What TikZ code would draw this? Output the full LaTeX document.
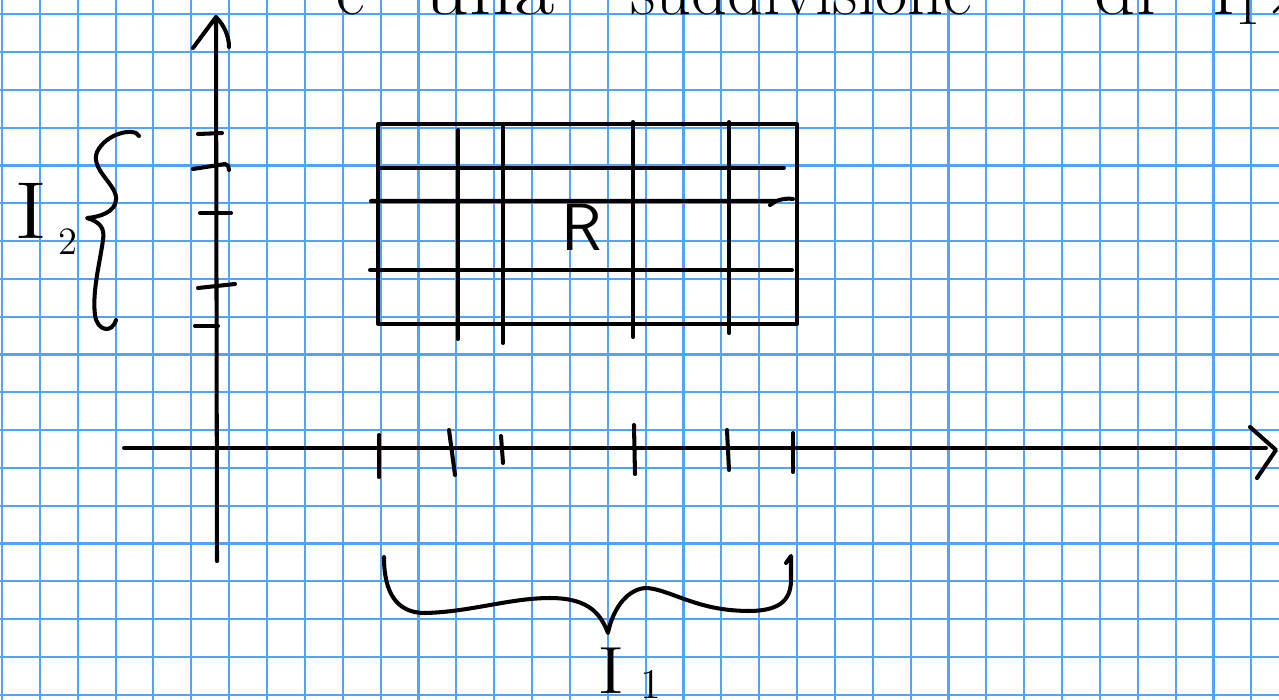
\documentclass[tikz,border=0pt]{standalone}
\definecolor{gridblue}{RGB}{80,163,255}
\tikzset{
  gridline/.style={draw=gridblue, line width=0.6pt},
  ink/.style={draw=black, line width=1.15pt, line cap=round, line join=round},
  handtext/.style={inner sep=0pt, text=black},
}
\begin{document}
\begin{tikzpicture}[x=0.1mm,y=-0.1mm]
\useasboundingbox (0,0) rectangle (1279,700);
\begin{scope}
\clip (0,0) rectangle (1279,700);
\fill[white] (0,0) rectangle (1279,700);
% squared paper
\foreach \i in {0,...,33} \draw[gridline] ({2+37.86*\i},0) -- ({2+37.86*\i},700);
\foreach \j in {0,...,18} \draw[gridline] (0,{14.3+37.8*\j}) -- (1279,{14.3+37.8*\j});

% top line of handwriting (cut off by the page edge, as in the original)
\begin{scope}[every node/.style={handtext, anchor=base west, font=\fontsize{20}{20}\selectfont}]
\node (t1) at (336,14) {è};
\node (t2) at (424,14) {\scalebox{1.25}[1]{una}};
\node (t3) at (630,14) {suddivisione};
\node (t4) at (1094,14) {\scalebox{1.15}[1]{di}};
\node (t5) at (1212,14) {I$_1\times$};
\end{scope}

% axes
\coordinate (ybot) at (217,561);
\coordinate (ytop) at (216,17);
\coordinate (xleft) at (124,448);
\coordinate (xright) at (1276,450);
\draw[ink] (ybot) -- (ytop);
\draw[ink] (193,48) -- (ytop) .. controls (224,25) and (229,36) .. (229,47);
\draw[ink] (xleft) -- (1266,448);
\draw[ink] (1250,427) -- (xright) -- (1257,478);

% ticks on the x axis
\draw[ink] (379,435) -- (379,477);
\draw[ink] (449,430) -- (455,475);
\draw[ink] (501,436) -- (503,463);
\draw[ink] (634,425) -- (635,474);
\draw[ink] (727,430) -- (729,470);
\draw[ink] (793,433) -- (793,472);

% ticks on the y axis
\draw[ink] (198,134) -- (222,133);
\draw[ink] (193,169) -- (225,164) .. controls (228,164) and (229,167) .. (229,170);
\draw[ink] (200,213) -- (231,213);
\draw[ink] (198,288) -- (235,284);
\draw[ink] (195,326) -- (218,326);

% the rectangle R and its subdivision
\coordinate (rectNW) at (378,124);
\coordinate (rectSE) at (797,324);
\draw[ink] (rectNW) rectangle (rectSE);
\draw[ink] (458,130) -- (458,339);
\draw[ink] (503,125) -- (503,343);
\draw[ink] (633,122) -- (633,337);
\draw[ink] (729,122) -- (729,333);
\draw[ink] (378,168) -- (784,168);
\draw[ink] (371,201) -- (776,201) .. controls (782,199) and (788,198) .. (793,199);
\draw[ink] (770,205) -- (776,201);
\draw[ink] (370,270) -- (792,270);
\node[handtext, font=\sffamily\fontsize{19}{19}\selectfont] (R) at (582,227) {R};

% brace for I_2
\draw[ink] (139,136) .. controls (135,127) and (106,133) .. (97,152)
  .. controls (90,170) and (118,185) .. (116,200)
  .. controls (115,212) and (100,217) .. (87,218)
  .. controls (100,222) and (105,228) .. (103,240)
  .. controls (100,262) and (92,292) .. (95,315)
  .. controls (97,331) and (112,334) .. (116,320);
\node[handtext, anchor=base west, font=\fontsize{23}{23}\selectfont] (I2) at (14,238)
  {\scalebox{1.25}[1]{I}\kern3pt\raisebox{-4.8pt}{\fontsize{11}{11}\selectfont 2}};

% brace for I_1
\draw[ink] (384,557) .. controls (384,592) and (396,613) .. (425,613)
  .. controls (470,612) and (510,598) .. (550,598)
  .. controls (590,598) and (601,615) .. (608,633)
  .. controls (612,612) and (625,590) .. (645,588)
  .. controls (665,588) and (690,606) .. (730,610)
  .. controls (772,614) and (791,606) .. (791,580)
  -- (791,556) -- (786,563);
\node[handtext, anchor=base west, font=\fontsize{19}{19}\selectfont] (I1) at (597,693)
  {\scalebox{1.25}[1]{I}\kern4.5pt\raisebox{-1.5pt}{\fontsize{12}{12}\selectfont 1}};
\end{scope}
\end{tikzpicture}
\end{document}
